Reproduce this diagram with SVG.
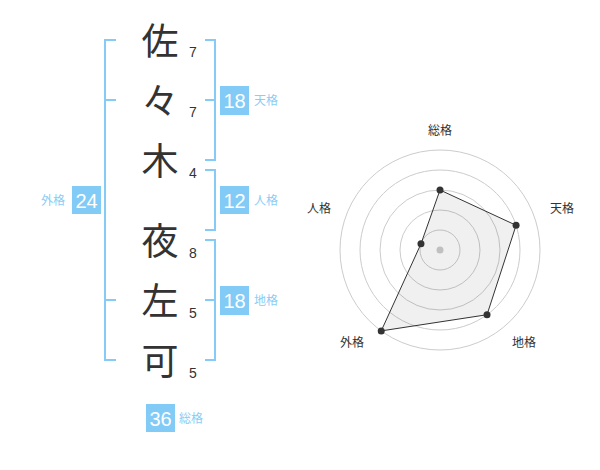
<svg xmlns="http://www.w3.org/2000/svg" width="600" height="470" viewBox="0 0 600 470">
<style>
.kanji{font-family:"Noto Sans CJK JP","Noto Sans CJK SC",sans-serif;font-size:37px;font-weight:400;fill:#333;text-anchor:middle}
.num{font-family:"Liberation Sans",Arial,sans-serif;font-size:14px;fill:#333;text-anchor:middle}
.br{fill:none;stroke:#85cbf6;stroke-width:2}
.box{fill:#82cbf7}
.boxt{font-family:"Liberation Sans",Arial,sans-serif;font-size:20px;fill:#fff;text-anchor:middle}
.lab{font-family:"Noto Sans CJK JP","Noto Sans CJK SC",sans-serif;font-size:12px;fill:#8acdf5}
.ring{fill:none;stroke:#cccccc;stroke-width:1}
.rl{font-family:"Noto Sans CJK JP","Noto Sans CJK SC",sans-serif;font-size:12px;fill:#333;text-anchor:middle}
.pt{fill:#333}
</style>
<rect width="600" height="470" fill="#fff"/>
<g id="chars">
<text class="kanji" x="160" y="55">佐</text>
<text class="kanji" x="160" y="115">々</text>
<text class="kanji" x="160" y="175">木</text>
<text class="kanji" x="160" y="255">夜</text>
<text class="kanji" x="160" y="315">左</text>
<text class="kanji" x="160" y="375">可</text>
</g>
<g id="strokes">
<text class="num" x="193" y="57">7</text>
<text class="num" x="193" y="117">7</text>
<text class="num" x="193" y="178">4</text>
<text class="num" x="193" y="258">8</text>
<text class="num" x="193" y="318">5</text>
<text class="num" x="193" y="378">5</text>
</g>
<g id="connectors">
<path class="br" d="M116,40 H105 V360 H116 M105,100 H116 M105,300 H116"/>
<path class="br" d="M205,40 H215 V160 H205 M205,100 H215"/>
<path class="br" d="M205,170 H215 V230 H205"/>
<path class="br" d="M205,240 H215 V360 H205 M205,300 H215"/>
</g>
<g id="tenkaku">
<rect class="box" x="220" y="86" width="29" height="29"/>
<text class="boxt" x="234.5" y="107.5">18</text>
<text class="lab" x="254" y="104.5">天格</text>
</g>
<g id="jinkaku">
<rect class="box" x="220" y="186" width="29" height="28"/>
<text class="boxt" x="234.5" y="207.5">12</text>
<text class="lab" x="254" y="204.5">人格</text>
</g>
<g id="chikaku">
<rect class="box" x="220" y="286" width="29" height="29"/>
<text class="boxt" x="234.5" y="307.5">18</text>
<text class="lab" x="254" y="304.5">地格</text>
</g>
<g id="gaikaku">
<rect class="box" x="72" y="186" width="29" height="28"/>
<text class="boxt" x="86.5" y="207.5">24</text>
<text class="lab" x="41" y="204.5">外格</text>
</g>
<g id="soukaku">
<rect class="box" x="146" y="404" width="29" height="28"/>
<text class="boxt" x="160.5" y="425.5">36</text>
<text class="lab" x="179" y="422.5">総格</text>
</g>
<g id="radar">
<circle class="ring" cx="440" cy="250" r="20"/>
<circle class="ring" cx="440" cy="250" r="40"/>
<circle class="ring" cx="440" cy="250" r="60"/>
<circle class="ring" cx="440" cy="250" r="80"/>
<circle class="ring" cx="440" cy="250" r="100"/>
<circle cx="440" cy="250" r="3.5" fill="#cccccc"/>
<polygon points="440,190 516.08,225.28 487.02,314.72 381.22,330.9 420.98,243.82" fill="rgba(0,0,0,0.06)" stroke="#333" stroke-width="1"/>
<circle class="pt" cx="440" cy="190" r="3.5"/>
<circle class="pt" cx="516.08" cy="225.28" r="3.5"/>
<circle class="pt" cx="487.02" cy="314.72" r="3.5"/>
<circle class="pt" cx="381.22" cy="330.9" r="3.5"/>
<circle class="pt" cx="420.98" cy="243.82" r="3.5"/>
<text class="rl" x="440" y="134.5">総格</text>
<text class="rl" x="562" y="212.5">天格</text>
<text class="rl" x="524" y="346.5">地格</text>
<text class="rl" x="352" y="346.5">外格</text>
<text class="rl" x="319" y="212.5">人格</text>
</g>
</svg>
